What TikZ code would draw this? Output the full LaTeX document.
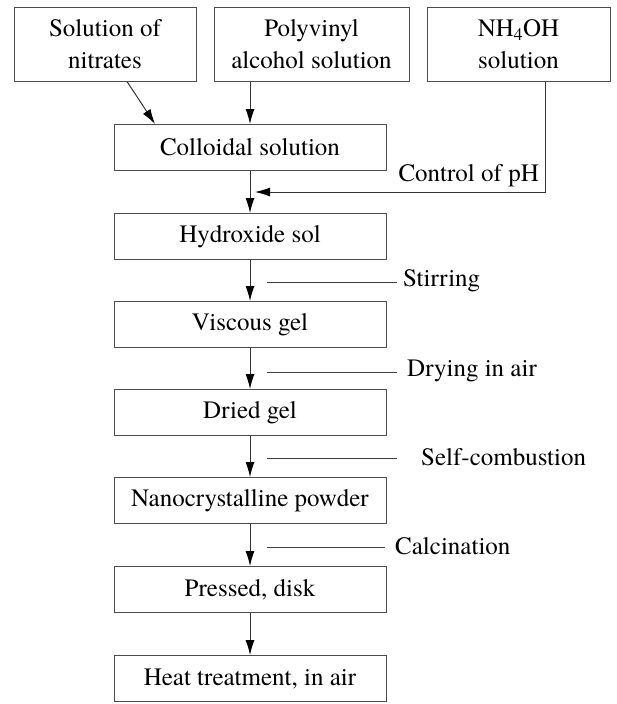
\documentclass[tikz,border=0pt]{standalone}
\usepackage{fontspec}
\setmainfont{texgyretermes}[Extension=.otf, UprightFont=*-regular, BoldFont=*-bold]
\usetikzlibrary{arrows.meta,calc}

\tikzset{
  stage/.style={draw=black!70, line width=1pt, minimum width=272pt, minimum height=46pt,
    inner sep=0pt, font=\fontsize{25}{32}\selectfont},
  source/.style={stage, minimum height=74pt, align=center},
  arr/.style={draw=black!80, line width=1pt, -{Latex[length=15pt,width=9pt,color=black]}},
  tick/.style={draw=black!75, line width=1pt},
  lbl/.style={inner sep=0pt, font=\fontsize{25}{32}\selectfont}
}

\begin{document}
\begin{tikzpicture}[x=1pt,y=-1pt]
\useasboundingbox (0,0) rectangle (617,704);

% inputs
\node[source, minimum width=182pt] (nitr) at (105,44) {Solution of\\nitrates};
\node[source, minimum width=195pt] (pva) at (311.5,44) {Polyvinyl\\alcohol solution};
\node[source, minimum width=183pt] (nh) at (518.5,44) {NH\textsubscript{4}OH\\solution};

% process chain
\node[stage] (coll) at (250,147.5) {Colloidal solution};
\node[stage] (hyd) at (250,236.5) {Hydroxide sol};
\node[stage] (visc) at (250,324.5) {Viscous gel};
\node[stage] (dried) at (250,412.5) {Dried gel};
\node[stage] (nano) at (250,500.5) {Nanocrystalline powder};
\node[stage] (press) at (250,589.5) {Pressed, disk};
\node[stage] (heat) at (250,678.5) {Heat treatment, in air};

% inputs into colloid
\draw[arr] ([xshift=22pt]nitr.south) -- ([xshift=-95pt]coll.north);
\draw[arr] (coll.north |- pva.south) -- (coll.north);
\coordinate (ph) at (255,192);
\draw[arr] ([xshift=26.5pt]nh.south) |- (ph);
\node[lbl, anchor=base east] (phl) at (539,181) {Control of pH};

% main flow
\foreach \a/\b in {coll/hyd, hyd/visc, visc/dried, dried/nano, nano/press, press/heat}
  \draw[arr] (\a) -- (\b);

% side conditions
\node[lbl, anchor=west] (stir) at (403,281) {Stirring};
\node[lbl, anchor=west] (dry) at (407,371) {Drying in air};
\node[lbl, anchor=west] (comb) at (421,457) {Self-combustion};
\node[lbl, anchor=west] (calc) at (395,546) {Calcination};
\draw[tick] ([xshift=17pt]hyd.south |- 0,282) -- ++(130,0);
\draw[tick] ([xshift=17pt]visc.south |- 0,372) -- ++(130,0);
\draw[tick] ([xshift=17pt]dried.south |- 0,458) -- ++(130,0);
\draw[tick] ([xshift=17pt]nano.south |- 0,547) -- ++(118,0);
\end{tikzpicture}
\end{document}
